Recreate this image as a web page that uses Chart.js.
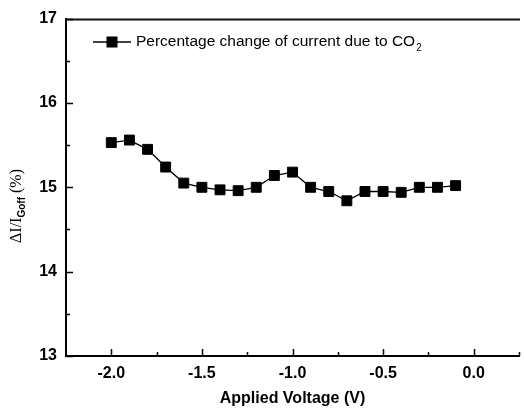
<!DOCTYPE html>
<html>
<head>
<meta charset="utf-8">
<script src="https://cdn.jsdelivr.net/npm/chart.js@4/dist/chart.umd.min.js"></script>
<style>
  html, body { margin: 0; padding: 0; background: #fff; overflow: hidden; }
  #wrap { width: 527px; height: 412px; }
</style>
</head>
<body>
<div id="wrap"><canvas id="myChart"></canvas></div>
<script>
  // data
  var voltages = [-2.0, -1.9, -1.8, -1.7, -1.6, -1.5, -1.4, -1.3, -1.2, -1.1,
                  -1.0, -0.9, -0.8, -0.7, -0.6, -0.5, -0.4, -0.3, -0.2, -0.1];
  var changes = [15.53, 15.56, 15.45, 15.24, 15.05, 15.00, 14.97, 14.96, 15.00, 15.14,
                 15.18, 15.00, 14.95, 14.84, 14.95, 14.95, 14.94, 15.00, 15.00, 15.02];
  var xTicks = [-2.0, -1.5, -1.0, -0.5, 0.0];
  var yTicks = [13, 14, 15, 16, 17];
  var seriesName = 'Percentage change of current due to CO';

  var sans = '"Liberation Sans", Arial, sans-serif';
  var serif = '"Liberation Serif", "Times New Roman", serif';

  var points = voltages.map(function(v, i) { return { x: v, y: changes[i] }; });

  // inward tick marks, top frame, legend and y title
  var decor = {
    id: 'decor',
    afterDraw: function(chart) {
      var ctx = chart.ctx;
      var area = chart.chartArea;
      var xs = chart.scales.x, ys = chart.scales.y;
      ctx.save();
      ctx.strokeStyle = '#111';
      ctx.lineWidth = 2;
      ctx.beginPath();
      ctx.moveTo(area.left - 1, area.top + 1);
      ctx.lineTo(area.right + 1, area.top + 1);
      ctx.stroke();

      ctx.strokeStyle = '#000';
      ctx.lineWidth = 1.5;
      ctx.beginPath();
      xTicks.forEach(function(v) {
        var px = Math.round(xs.getPixelForValue(v)) + 0.5;
        ctx.moveTo(px, area.bottom); ctx.lineTo(px, area.bottom - 7);
        var pm = Math.round(xs.getPixelForValue(v + 0.25)) + 0.5;
        ctx.moveTo(pm, area.bottom); ctx.lineTo(pm, area.bottom - 4);
      });
      yTicks.forEach(function(v) {
        var py = Math.round(ys.getPixelForValue(v)) + 0.5;
        ctx.moveTo(area.left, py); ctx.lineTo(area.left + 7, py);
        if (v < 17) {
          var pm = Math.round(ys.getPixelForValue(v + 0.5)) + 0.5;
          ctx.moveTo(area.left, pm); ctx.lineTo(area.left + 4, pm);
        }
      });
      ctx.stroke();

      // legend
      var ly = 42;
      ctx.lineWidth = 1.5;
      ctx.beginPath();
      ctx.moveTo(93, ly); ctx.lineTo(131, ly);
      ctx.stroke();
      ctx.fillStyle = '#000';
      ctx.fillRect(106.5, ly - 5.5, 11, 11);
      ctx.font = '15.5px ' + sans;
      ctx.textBaseline = 'middle';
      ctx.textAlign = 'left';
      ctx.fillText(seriesName, 136, ly);
      var w = ctx.measureText(seriesName).width;
      ctx.font = '10px ' + sans;
      ctx.fillText('2', 136 + w + 1, ly + 6);

      // y title
      ctx.translate(17, 206);
      ctx.rotate(-Math.PI / 2);
      var f1 = '16px ' + serif, f2 = 'bold 10px ' + sans;
      ctx.font = f1; var wa = ctx.measureText('\u0394I/I').width;
      ctx.font = f2; var wb = ctx.measureText('Goff').width;
      ctx.font = f1; var wc = ctx.measureText(' (%)').width;
      var sx = -(wa + wb + wc) / 2;
      ctx.textBaseline = 'middle';
      ctx.font = f1; ctx.fillText('\u0394I/I', sx, 0);
      ctx.font = f2; ctx.fillText('Goff', sx + wa, 5);
      ctx.font = f1; ctx.fillText(' (%)', sx + wa + wb, 0);
      ctx.restore();
    }
  };

  var ctx = document.getElementById('myChart');

  var myChart = new Chart(ctx, {
    type: 'scatter',
    data: {
      datasets: [{
        label: seriesName,
        data: points,
        showLine: true,
        borderColor: '#000',
        borderWidth: 1.3,
        backgroundColor: '#000',
        pointStyle: 'rect',
        pointRadius: 7,
        pointBorderWidth: 1,
        pointBorderColor: '#000',
        pointBackgroundColor: '#000'
      }]
    },
    options: {
      responsive: true,
      maintainAspectRatio: false,
      animation: false,
      events: [],
      layout: { padding: { top: 17, left: 0, right: 0, bottom: 0 } },
      plugins: { legend: { display: false }, tooltip: { enabled: false } },
      scales: {
        x: {
          type: 'linear',
          min: -2.25,
          max: 0.25,
          afterBuildTicks: function(scale) {
            scale.ticks = xTicks.map(function(v) { return { value: v }; });
          },
          afterFit: function(scale) { scale.height = 56; },
          grid: { display: true, drawOnChartArea: false, drawTicks: false },
          border: { display: true, color: '#000', width: 2 },
          ticks: {
            padding: 8,
            color: '#000',
            font: { family: sans, size: 16, weight: 'bold' },
            callback: function(v) { return v.toFixed(1); }
          },
          title: {
            display: true,
            text: 'Applied Voltage (V)',
            color: '#000',
            font: { family: sans, size: 16, weight: 'bold' },
            padding: { top: 4, bottom: 4 }
          }
        },
        y: {
          min: 13,
          max: 17,
          afterBuildTicks: function(scale) {
            scale.ticks = yTicks.map(function(v) { return { value: v }; });
          },
          afterFit: function(scale) { scale.width = 66; },
          grid: { display: true, drawOnChartArea: false, drawTicks: false },
          border: { display: true, color: '#000', width: 2 },
          ticks: {
            padding: 9,
            color: '#000',
            font: { family: sans, size: 16, weight: 'bold' }
          }
        }
      }
    },
    plugins: [decor]
  });
</script>
</body>
</html>
